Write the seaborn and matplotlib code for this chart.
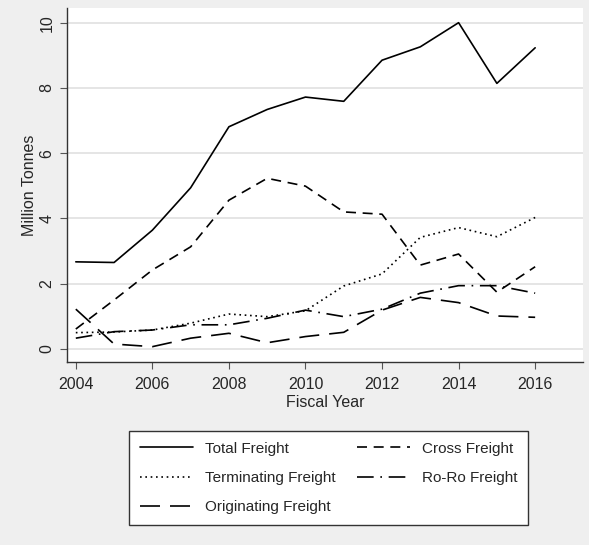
import matplotlib
matplotlib.use("Agg")
import matplotlib.pyplot as plt
import seaborn as sns
import pandas as pd
from matplotlib.lines import Line2D

years = [2004, 2005, 2006, 2007, 2008, 2009, 2010, 2011, 2012, 2013, 2014, 2015, 2016]
total_freight = [2.67, 2.65, 3.64, 4.94, 6.81, 7.34, 7.72, 7.59, 8.85, 9.26, 10.0, 8.14, 9.23]
cross_freight = [0.61, 1.50, 2.42, 3.13, 4.56, 5.23, 4.99, 4.20, 4.13, 2.57, 2.91, 1.74, 2.52]
terminating_freight = [0.50, 0.52, 0.58, 0.79, 1.07, 0.99, 1.17, 1.93, 2.30, 3.42, 3.72, 3.44, 4.03]
roro_freight = [0.33, 0.53, 0.58, 0.74, 0.74, 0.94, 1.19, 0.99, 1.22, 1.71, 1.94, 1.94, 1.71]
originating_freight = [1.22, 0.15, 0.07, 0.33, 0.48, 0.19, 0.38, 0.51, 1.19, 1.58, 1.42, 1.01, 0.97]

series_names = ["Total Freight", "Cross Freight", "Terminating Freight",
                "Ro-Ro Freight", "Originating Freight"]
series_values = [total_freight, cross_freight, terminating_freight,
                 roro_freight, originating_freight]
x_ticks = [2004, 2006, 2008, 2010, 2012, 2014, 2016]
y_ticks = [0, 2, 4, 6, 8, 10]

rows = []
for name, vals in zip(series_names, series_values):
    for yr, v in zip(years, vals):
        rows.append({"Fiscal Year": yr, "Million Tonnes": v, "Series": name})
df = pd.DataFrame(rows)

sns.set_theme(style="white")
plt.rcParams["font.family"] = ["Liberation Sans", "DejaVu Sans"]

dashes = {
    "Total Freight": "",
    "Cross Freight": (6, 4),
    "Terminating Freight": (1, 2.2),
    "Ro-Ro Freight": (10, 4, 1, 4),
    "Originating Freight": (12, 6),
}

fig = plt.figure(figsize=(5.89, 5.45), dpi=100)
fig.patch.set_facecolor("#efefef")
ax = fig.add_axes([67/589, 1-362/545, (583-67)/589, (362-8)/545])
ax.set_facecolor("white")

sns.lineplot(data=df, x="Fiscal Year", y="Million Tonnes", style="Series",
             style_order=series_names, dashes=dashes, color="black",
             linewidth=1.2, legend=False, ax=ax)

ax.set_xlim(2003.77, 2017.25)
ax.set_ylim(-0.4, 10.45)
ax.set_xticks(x_ticks)
ax.set_yticks(y_ticks)
ax.set_yticklabels([str(t) for t in y_ticks], rotation=90, va="center")
ax.yaxis.grid(True, color="#e3e3e3", linewidth=1.3)
ax.xaxis.grid(False)
ax.set_axisbelow(True)
for s in ["top", "right"]:
    ax.spines[s].set_visible(False)
for s in ["left", "bottom"]:
    ax.spines[s].set_color("#333333")
    ax.spines[s].set_linewidth(1.0)
ax.tick_params(axis="both", which="both", direction="out", length=5, width=0.8,
               color="#555555", labelsize=11.5, left=True, bottom=True)
ax.tick_params(axis="x", pad=6)
ax.tick_params(axis="y", pad=4)
ax.set_xlabel("Fiscal Year", fontsize=11.5, labelpad=2)
ax.set_ylabel("Million Tonnes", fontsize=11.5, labelpad=2)

handle_map = {}
for name in series_names:
    d = dashes[name]
    if d == "":
        h = Line2D([0], [0], color="black", linewidth=1.2, linestyle="-")
    else:
        h = Line2D([0], [0], color="black", linewidth=1.2, linestyle=(0, d))
    handle_map[name] = h
order = ["Total Freight", "Terminating Freight", "Originating Freight",
         "Cross Freight", "Ro-Ro Freight"]
leg = fig.legend([handle_map[n] for n in order], order, ncol=2,
                 loc="upper left", bbox_to_anchor=(129/589, 1-431/545),
                 borderaxespad=0, frameon=True, fancybox=False, fontsize=11,
                 handlelength=3.5, columnspacing=1.4, borderpad=0.7,
                 labelspacing=1.0, handletextpad=0.75, framealpha=1.0)
leg.get_frame().set_edgecolor("#333333")
leg.get_frame().set_linewidth(1.0)
leg.get_frame().set_facecolor("white")

fig.savefig("out.png", dpi=100, facecolor=fig.get_facecolor())
